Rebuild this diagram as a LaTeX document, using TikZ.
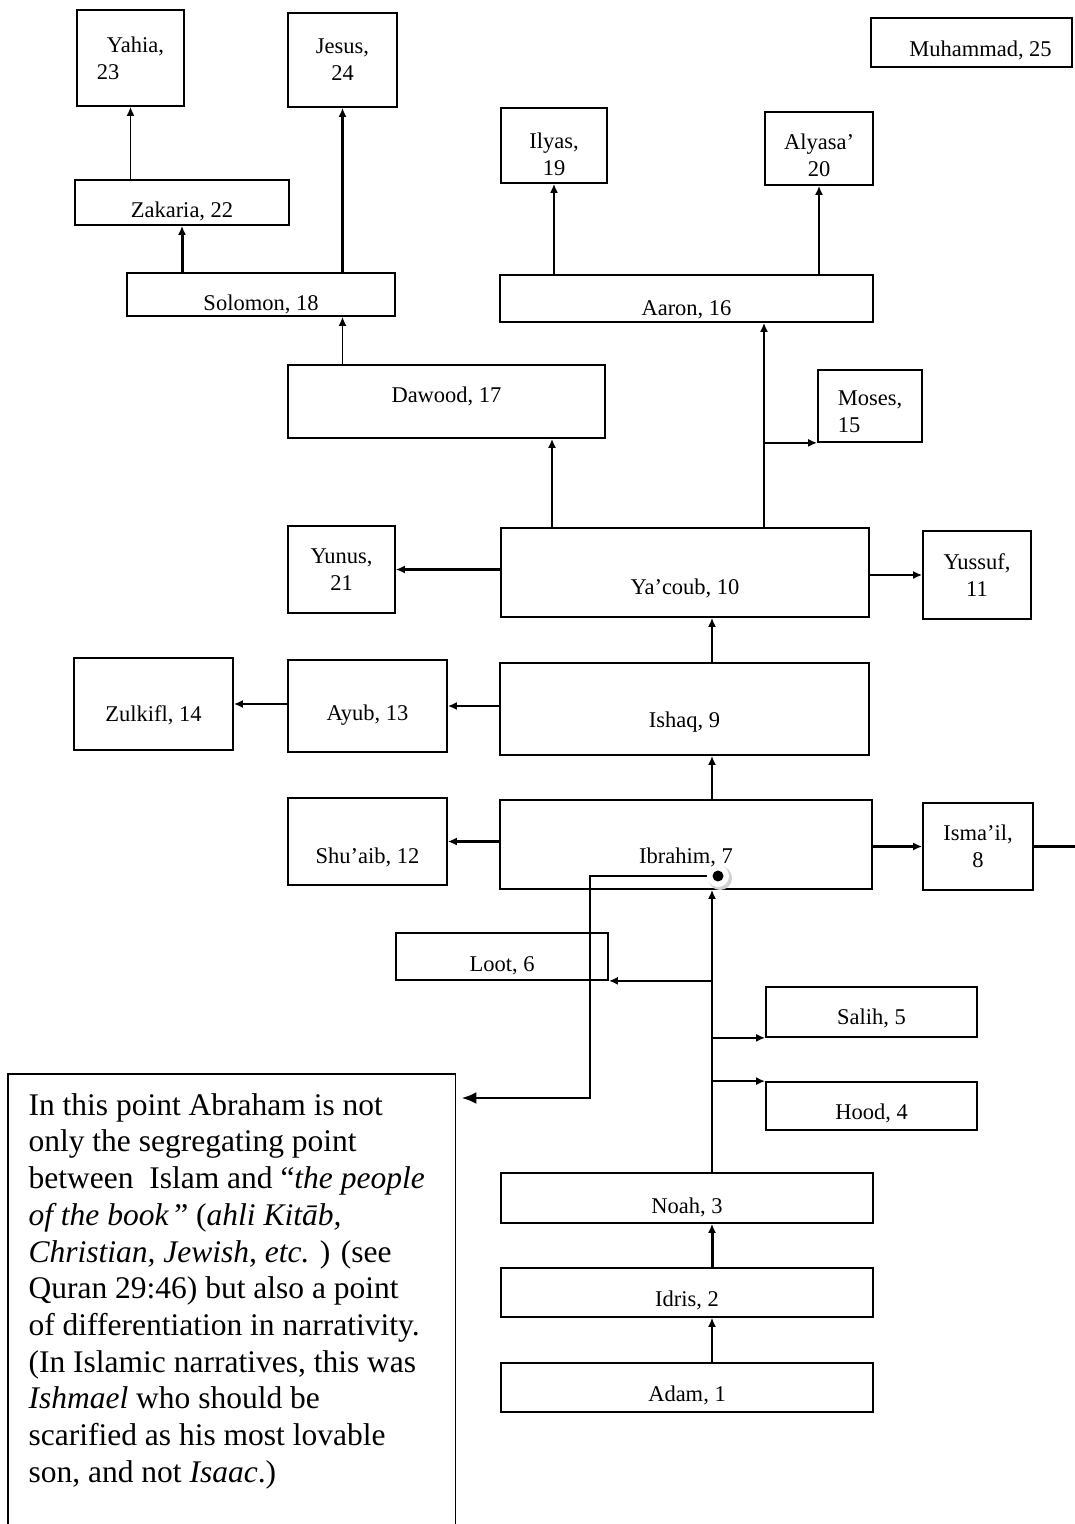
\documentclass[tikz,border=0pt]{standalone}
\usepackage{fontspec}
\setmainfont{Liberation Serif}
\usetikzlibrary{arrows.meta}
\newcommand\lowertxt[2]{\raisebox{-#1}[\height][\depth]{#2}}
\begin{document}
\begin{tikzpicture}[x=1pt,y=-1pt,
  pbox/.style={draw, line width=1.7pt, inner sep=0pt, align=center,
    font=\fontsize{22.5}{27}\selectfont},
  tarr/.style={line width=1.5pt, -{Latex[length=9pt,width=8pt]}},
  arr/.style={line width=2.3pt, -{Latex[length=9pt,width=8pt]}},
  harr/.style={line width=3pt, -{Latex[length=9pt,width=8pt]}},
  notetext/.style={inner sep=0pt, align=left,
    font=\fontsize{31.5}{36.7}\selectfont},
  callout/.style={line width=2.8pt, -{Latex[length=15pt,width=12pt]}},
]
\path[use as bounding box, fill=white] (0,0) rectangle (1075,1524);

% helper columns
\coordinate (cA) at (552,0);
\coordinate (cM) at (764,0);
\coordinate (cI) at (712,0);
\coordinate (cC) at (590,0);
\coordinate (edgeR) at (1075,0);
\coordinate (edgeB) at (0,1524);
\coordinate (dotc) at (718,876);

% top
\node[pbox, minimum width=107pt, minimum height=96pt, align=left] (yahia) at (130.5,58) {\hspace*{10pt}Yahia,\\23};
\node[pbox, minimum width=109pt, minimum height=94pt] (jesus) at (342.5,60) {Jesus,\\24};
\node[pbox, minimum width=214pt, minimum height=45pt] (zakaria) at (182,202.5) {\lowertxt{9pt}{Zakaria, 22}};
\node[pbox, minimum width=268pt, minimum height=43pt] (solomon) at (261,294.5) {\lowertxt{10pt}{Solomon, 18}};
\node[pbox, minimum width=201pt, minimum height=49pt] (muhammad) at (971.5,42.5) {\lowertxt{8pt}{\hspace*{18pt}Muhammad, 25}};
\node[pbox, minimum width=106pt, minimum height=75pt] (ilyas) at (554,145.5) {\lowertxt{9pt}{Ilyas,}\\\lowertxt{9pt}{19}};
\node[pbox, minimum width=108pt, minimum height=73pt] (alyasa) at (819,148.5) {\lowertxt{7pt}{Alyasa’}\\\lowertxt{7pt}{20}};
\node[pbox, minimum width=373pt, minimum height=47pt] (aaron) at (686.5,298.5) {\lowertxt{11pt}{Aaron, 16}};
\node[pbox, minimum width=317pt, minimum height=73pt] (dawood) at (446.5,401.5) {\lowertxt{-5pt}{Dawood, 17}};
\node[pbox, minimum width=104pt, minimum height=72pt, align=left] (moses) at (870,406) {\lowertxt{6pt}{Moses,}\\\lowertxt{6pt}{15}};

% middle
\node[pbox, minimum width=368pt, minimum height=89pt] (yacoub) at (685,572.5) {\lowertxt{16pt}{Ya’coub, 10}};
\node[pbox, minimum width=107pt, minimum height=87pt] (yunus) at (341.5,569.5) {Yunus,\\21};
\node[pbox, minimum width=108pt, minimum height=88pt] (yussuf) at (977,575) {Yussuf,\\11};
\node[pbox, minimum width=159pt, minimum height=92pt] (zulkifl) at (153.5,704) {\lowertxt{11pt}{Zulkifl, 14}};
\node[pbox, minimum width=159pt, minimum height=92pt] (ayub) at (367.5,706) {\lowertxt{9pt}{Ayub, 13}};
\node[pbox, minimum width=369pt, minimum height=92pt] (ishaq) at (684.5,709) {\lowertxt{13pt}{Ishaq, 9}};
\node[pbox, minimum width=159pt, minimum height=87pt] (shuaib) at (367.5,841.5) {\lowertxt{16pt}{Shu’aib, 12}};
\node[pbox, minimum width=372pt, minimum height=89pt] (ibrahim) at (686,844.5) {\lowertxt{13pt}{Ibrahim, 7}};
\node[pbox, minimum width=110pt, minimum height=87pt] (ismail) at (978,846.5) {Isma’il,\\8};

% lower
\node[pbox, minimum width=212pt, minimum height=47pt] (loot) at (502,956.5) {\lowertxt{9pt}{Loot, 6}};
\node[pbox, minimum width=211pt, minimum height=50pt] (salih) at (871.5,1012) {\lowertxt{6pt}{Salih, 5}};
\node[pbox, minimum width=211pt, minimum height=48pt] (hood) at (871.5,1106) {\lowertxt{7pt}{Hood, 4}};
\node[pbox, minimum width=372pt, minimum height=50pt] (noah) at (687,1198) {\lowertxt{9pt}{Noah, 3}};
\node[pbox, minimum width=372pt, minimum height=49pt] (idris) at (687,1292.5) {\lowertxt{8pt}{Idris, 2}};
\node[pbox, minimum width=372pt, minimum height=49pt] (adam) at (687,1387.5) {\lowertxt{8pt}{Adam, 1}};

% note box
\node[notetext, minimum width=447pt, minimum height=434pt, anchor=north west] (note) at (8,1074) {%
In this point Abraham is not\\
only the segregating point\\
between\ \ Islam and “\textit{the people}\rule{10pt}{0pt}\\
\textit{of the book}\,” (\textit{ahli Kitāb,}\\
\textit{Christian, Jewish, etc.} ) (see\\
Quran 29:46) but also a point\\
of differentiation in narrativity.\\
(In Islamic narratives, this was\\
\textit{Ishmael} who should be\\
scarified as his most lovable\\
son, and not \textit{Isaac}.)};
\draw[line width=1.4pt] (note.north west |- edgeB) -- (note.north west) -- (note.north east) -- (note.north east |- edgeB);
\coordinate (tip) at ([shift={(6,24)}]note.north east);

% connectors: top part
\draw[tarr] (zakaria.north -| yahia) -- (yahia.south);
\draw[harr] (solomon.north -| zakaria) -- (zakaria.south);
\draw[harr] (solomon.north -| jesus) -- (jesus.south);
\draw[tarr] (dawood.north -| jesus) -- (solomon.south -| jesus);
\draw[arr] (aaron.north -| ilyas) -- (ilyas.south);
\draw[arr] (aaron.north -| alyasa) -- (alyasa.south);
\draw[arr] (yacoub.north -| cA) -- (dawood.south -| cA);
\draw[arr] (yacoub.north -| cM) -- (aaron.south -| cM);
\draw[arr] (cM |- moses.south west) -- (moses.south west);

% middle
\draw[harr] (yacoub.west |- yunus.east) -- (yunus.east);
\draw[arr] (yacoub.east |- yussuf.west) -- (yussuf.west);
\draw[arr] (ishaq.north -| cI) -- (yacoub.south -| cI);
\draw[arr] (ishaq.west |- ayub.east) -- (ayub.east);
\draw[arr] (ayub.west |- zulkifl.east) -- (zulkifl.east);
\draw[arr] (ibrahim.north -| cI) -- (ishaq.south -| cI);
\draw[arr] (ibrahim.west |- shuaib.east) -- (shuaib.east);
\draw[arr] (ibrahim.east |- ismail.west) -- (ismail.west);
\draw[line width=3pt] (ismail.east) -- (ismail.east -| edgeR);

% lower
\draw[arr] (noah.north -| cI) -- (ibrahim.south -| cI);
\draw[arr] (cI |- loot.south east) -- (loot.south east);
\draw[arr] (cI |- salih.south west) -- (salih.south west);
\draw[arr] (cI |- hood.north west) -- (hood.north west);
\draw[harr] (idris.north -| cI) -- (noah.south -| cI);
\draw[tarr] (adam.north -| cI) -- (idris.south -| cI);

% callout
\draw[callout] (dotc) -- (dotc -| cC) -- (cC |- tip) -- (tip);
\fill[gray!35] ([shift={(2,2)}]dotc) circle (12pt);
\node[circle, fill=white, inner sep=0pt, minimum size=22pt] (dot) at (dotc) {};
\fill[black] (dot.center) circle (5.5pt);
\end{tikzpicture}
\end{document}
